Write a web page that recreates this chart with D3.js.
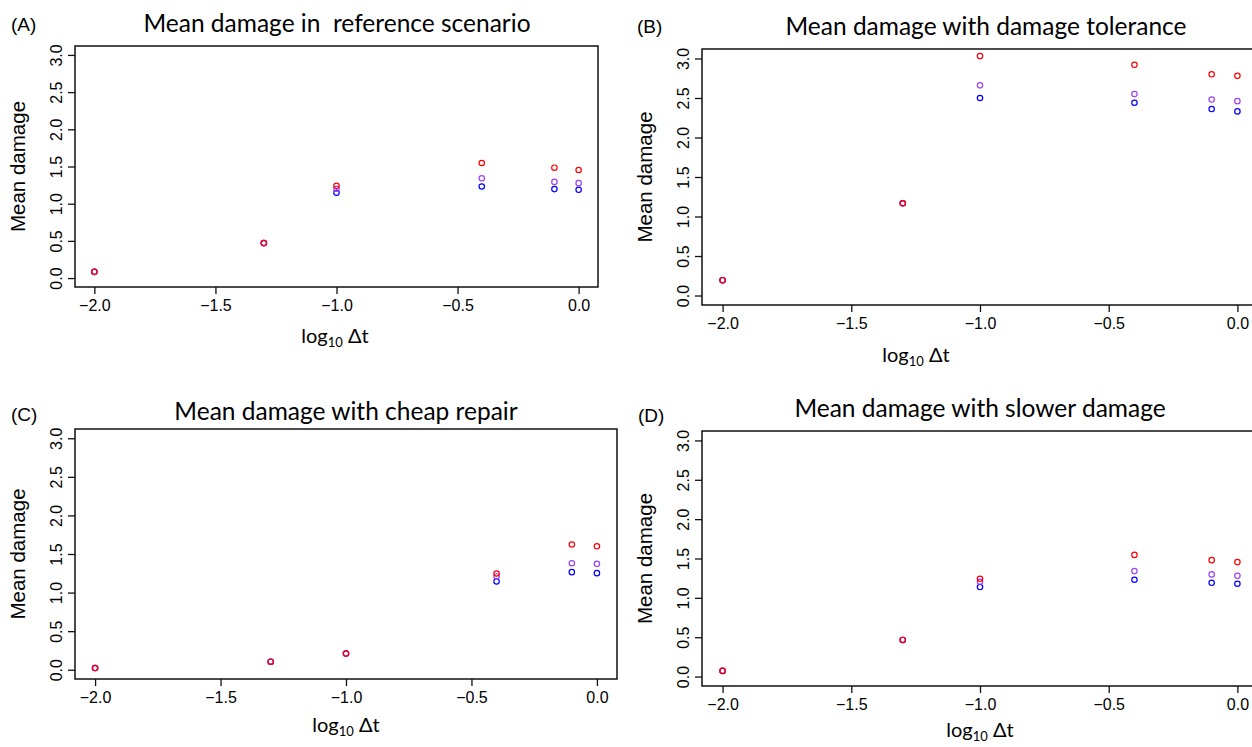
<!DOCTYPE html>
<html>
<head>
<meta charset="utf-8">
<script src="https://cdn.jsdelivr.net/npm/d3@7"></script>
<style>
  body { margin: 0; background: #fff; }
  svg { display: block; }
</style>
</head>
<body>
<div id="chart"></div>
<script>
// x positions shared by all four panels (log10 of time step)
var xVals = [-2, -1.3, -1, -0.4, -0.1, 0];
var xTicks = [-2, -1.5, -1, -0.5, 0];
var yTicks = [0, 0.5, 1, 1.5, 2, 2.5, 3];

var panelLetters = ["(A)", "(B)", "(C)", "(D)"];
var panelTitles = [
  "Mean damage in  reference scenario",
  "Mean damage with damage tolerance",
  "Mean damage with cheap repair",
  "Mean damage with slower damage"
];

// (A) reference scenario
var refRed    = [0.084, 0.47, 1.24, 1.547, 1.484, 1.453];
var refPurple = [0.084, 0.47, 1.20, 1.342, 1.293, 1.276];
var refBlue   = [0.084, 0.47, 1.147, 1.231, 1.196, 1.187];

// (B) damage tolerance
var tolRed    = [0.194, 1.168, 3.03, 2.92, 2.80, 2.78];
var tolPurple = [0.194, 1.168, 2.66, 2.55, 2.48, 2.46];
var tolBlue   = [0.194, 1.168, 2.50, 2.44, 2.36, 2.33];

// (C) cheap repair
var cheapRed    = [0.022, 0.104, 0.21, 1.247, 1.623, 1.60];
var cheapPurple = [0.022, 0.104, 0.21, 1.209, 1.38, 1.373];
var cheapBlue   = [0.022, 0.104, 0.21, 1.144, 1.265, 1.252];

// (D) slower damage
var slowRed    = [0.072, 0.465, 1.242, 1.546, 1.479, 1.454];
var slowPurple = [0.072, 0.465, 1.204, 1.34, 1.298, 1.28];
var slowBlue   = [0.072, 0.465, 1.137, 1.23, 1.191, 1.179];

var panelSeries = [
  [refBlue, refPurple, refRed],
  [tolBlue, tolPurple, tolRed],
  [cheapBlue, cheapPurple, cheapRed],
  [slowBlue, slowPurple, slowRed]
];
var seriesColors = ["#0000ff", "#a040f0", "#ff0000"];

// where each panel sits in the picture
var layout = [
  {box: [75, 598, 46, 287],  letter: [11, 31],  title: [337, 32],  xlab: [335, 343]},
  {box: [702, 1258, 49, 305], letter: [637, 33], title: [986, 35],  xlab: [916, 362]},
  {box: [75, 617, 429, 679], letter: [11, 421], title: [346, 420], xlab: [346, 732]},
  {box: [702, 1258, 431, 686], letter: [638, 422], title: [980, 417], xlab: [980, 737]}
];

var width = 1252, height = 747;
var svg = d3.select("#chart").append("svg")
  .attr("width", width)
  .attr("height", height);

var sansR = "'Liberation Sans', Arial, sans-serif";
var sansC = "Lato, 'Open Sans', sans-serif";
var fmt = d3.format(".1f");

layout.forEach(function(p, i) {
  var x = d3.scaleLinear().domain([-2.08, 0.08]).range([p.box[0], p.box[1]]);
  var y = d3.scaleLinear().domain([-0.12, 3.12]).range([p.box[3], p.box[2]]);
  var g = svg.append("g");

  // frame
  g.append("rect")
    .attr("x", p.box[0]).attr("y", p.box[2])
    .attr("width", p.box[1] - p.box[0])
    .attr("height", p.box[3] - p.box[2])
    .attr("fill", "none")
    .attr("stroke", "#111")
    .attr("stroke-width", 1.5);

  var xAxis = g.append("g")
    .attr("transform", "translate(0," + p.box[3] + ")")
    .call(d3.axisBottom(x).tickValues(xTicks).tickSize(7).tickPadding(6).tickFormat(fmt));
  xAxis.select(".domain").remove();
  xAxis.selectAll("line").attr("stroke", "#111").attr("stroke-width", 1.3);
  xAxis.selectAll("text")
    .attr("fill", "#000")
    .style("font-family", sansR)
    .style("font-size", "16px");

  var yAxis = g.append("g")
    .attr("transform", "translate(" + p.box[0] + ",0)")
    .call(d3.axisLeft(y).tickValues(yTicks).tickSize(7).tickFormat(fmt));
  yAxis.select(".domain").remove();
  yAxis.selectAll("line").attr("stroke", "#111").attr("stroke-width", 1.3);
  yAxis.selectAll("text")
    .attr("fill", "#000")
    .attr("x", 0).attr("y", -13).attr("dy", 0)
    .attr("transform", "rotate(-90)")
    .attr("text-anchor", "middle")
    .style("font-family", sansR)
    .style("font-size", "16px");

  // points, blue first so red sits on top
  panelSeries[i].forEach(function(vals, k) {
    g.selectAll(null)
      .data(vals)
      .enter().append("circle")
      .attr("cx", function(d, j) { return x(xVals[j]); })
      .attr("cy", function(d) { return y(d); })
      .attr("r", 2.7)
      .attr("fill", "none")
      .attr("stroke", seriesColors[k])
      .attr("stroke-width", 1.2);
  });

  // labels
  g.append("text")
    .attr("x", p.letter[0]).attr("y", p.letter[1])
    .style("font-family", sansR)
    .style("font-size", "19px")
    .text(panelLetters[i]);

  g.append("text")
    .attr("x", p.title[0]).attr("y", p.title[1])
    .attr("text-anchor", "middle")
    .style("font-family", sansC)
    .style("font-size", "24.5px")
    .style("white-space", "pre")
    .text(panelTitles[i]);

  g.append("text")
    .attr("transform", "translate(" + (p.box[0] - 50) + "," + ((p.box[2] + p.box[3]) / 2) + ") rotate(-90)")
    .attr("text-anchor", "middle")
    .style("font-family", sansR)
    .style("font-size", "20.5px")
    .text("Mean damage");

  var xl = g.append("text")
    .attr("x", p.xlab[0]).attr("y", p.xlab[1])
    .attr("text-anchor", "middle")
    .style("font-family", sansC)
    .style("font-size", "20px");
  xl.append("tspan").text("log");
  xl.append("tspan").attr("dy", 4).style("font-size", "13px").text("10");
  xl.append("tspan").attr("dy", -4).text(" \u0394t");
});
</script>
</body>
</html>
